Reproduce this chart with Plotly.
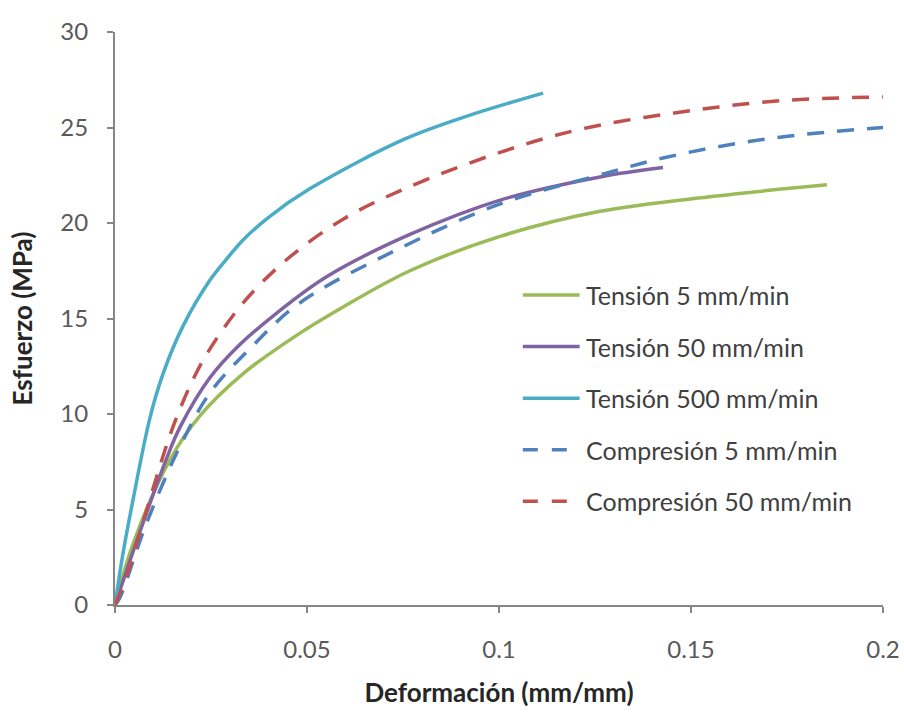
import plotly.graph_objects as go

# Strain (mm/mm) and stress (MPa) for each test condition
tension_5_x = [0, 0.0047, 0.0143, 0.0221, 0.0333, 0.0464, 0.0594, 0.0768, 0.1003, 0.126, 0.156, 0.1854]
tension_5_y = [0, 3.2, 7.6, 9.9, 12.1, 14.0, 15.6, 17.5, 19.3, 20.6, 21.4, 22.0]

tension_50_x = [0, 0.0073, 0.0135, 0.0169, 0.0247, 0.0318, 0.0422, 0.0552, 0.0768, 0.1003, 0.126, 0.1427]
tension_50_y = [0, 4.3, 7.7, 9.3, 11.9, 13.5, 15.3, 17.2, 19.4, 21.2, 22.4, 22.9]

tension_500_x = [0, 0.002, 0.0044, 0.0091, 0.0125, 0.0177, 0.0247, 0.029, 0.0333, 0.040, 0.0508, 0.0755, 0.0917, 0.1115]
tension_500_y = [0, 2.6, 5.2, 9.8, 12.1, 14.6, 17.0, 18.1, 19.1, 20.3, 21.8, 24.4, 25.6, 26.8]

compresion_5_x = [0, 0.0013, 0.0073, 0.0117, 0.0169, 0.0247, 0.036, 0.048, 0.0724, 0.1003, 0.126, 0.1427, 0.160, 0.1776, 0.2]
compresion_5_y = [0, 0.4, 3.8, 6.0, 8.3, 11.1, 13.6, 15.8, 18.5, 21.0, 22.5, 23.4, 24.1, 24.6, 25.0]

compresion_50_x = [0, 0.003, 0.0065, 0.013, 0.016, 0.0203, 0.0247, 0.0333, 0.0448, 0.0594, 0.0755, 0.1003, 0.121, 0.147, 0.173, 0.2]
compresion_50_y = [0, 1.5, 3.8, 8.1, 9.8, 11.8, 13.4, 15.8, 18.1, 20.2, 21.8, 23.7, 24.9, 25.8, 26.4, 26.6]

series_names = ["Tensión 5 mm/min", "Tensión 50 mm/min", "Tensión 500 mm/min",
                "Compresión 5 mm/min", "Compresión 50 mm/min"]
series_x = [tension_5_x, tension_50_x, tension_500_x, compresion_5_x, compresion_50_x]
series_y = [tension_5_y, tension_50_y, tension_500_y, compresion_5_y, compresion_50_y]
series_colors = ["#9BBB59", "#8064A2", "#4BACC6", "#4F81BD", "#C0504D"]
series_dash = ["solid", "solid", "solid", "17px,13px", "17px,13px"]

x_ticks = [0, 0.05, 0.1, 0.15, 0.2]
x_tick_text = ["0", "0.05", "0.1", "0.15", "0.2"]
y_ticks = [0, 5, 10, 15, 20, 25, 30]

FONT = "Lato"
LINE_W = 3.5

fig = go.Figure()
for name, xs, ys, color, dash in zip(series_names, series_x, series_y, series_colors, series_dash):
    fig.add_trace(go.Scatter(
        x=xs, y=ys, name=name, mode="lines",
        line=dict(color=color, width=LINE_W, dash=dash, shape="spline", smoothing=1.0),
        showlegend=False,
    ))

# Hand-drawn legend block on the right side of the plot area
legend_x0, legend_x1, legend_text_x = 0.531, 0.605, 0.611
legend_top, legend_step = 0.541, 0.090
for i, (name, color, dash) in enumerate(zip(series_names, series_colors, series_dash)):
    yy = legend_top - i * legend_step
    fig.add_shape(type="line", xref="paper", yref="paper",
                  x0=legend_x0, x1=legend_x1, y0=yy, y1=yy,
                  line=dict(color=color, width=LINE_W, dash="15px,14px" if dash != "solid" else "solid"))
    fig.add_annotation(xref="paper", yref="paper", x=legend_text_x, y=yy,
                       text=name, showarrow=False, xanchor="left", yanchor="middle",
                       font=dict(family=FONT, size=25, color="#404040"))

axis_common = dict(
    showgrid=False, zeroline=False, showline=True, linecolor="#868686", linewidth=2,
    ticks="outside", ticklen=6, tickcolor="#868686", tickwidth=2,
    tickfont=dict(family=FONT, size=24, color="#595959"),
    automargin=False,
)

fig.update_layout(
    width=904, height=720,
    margin=dict(l=115, r=21, t=32, b=115),
    paper_bgcolor="white", plot_bgcolor="white",
    xaxis=dict(range=[0, 0.2], tickvals=x_ticks, ticktext=x_tick_text, ticklabelstandoff=16,
               title=dict(text="<b>Deformación (mm/mm)</b>", standoff=22,
                          font=dict(family=FONT, size=26, color="#262626")),
               **axis_common),
    yaxis=dict(range=[0, 30], tickvals=y_ticks, ticklabelstandoff=14,
               title=dict(text="<b>Esfuerzo (MPa)</b>", standoff=20,
                          font=dict(family=FONT, size=26, color="#262626")),
               **axis_common),
)

fig.write_html("out.html")
